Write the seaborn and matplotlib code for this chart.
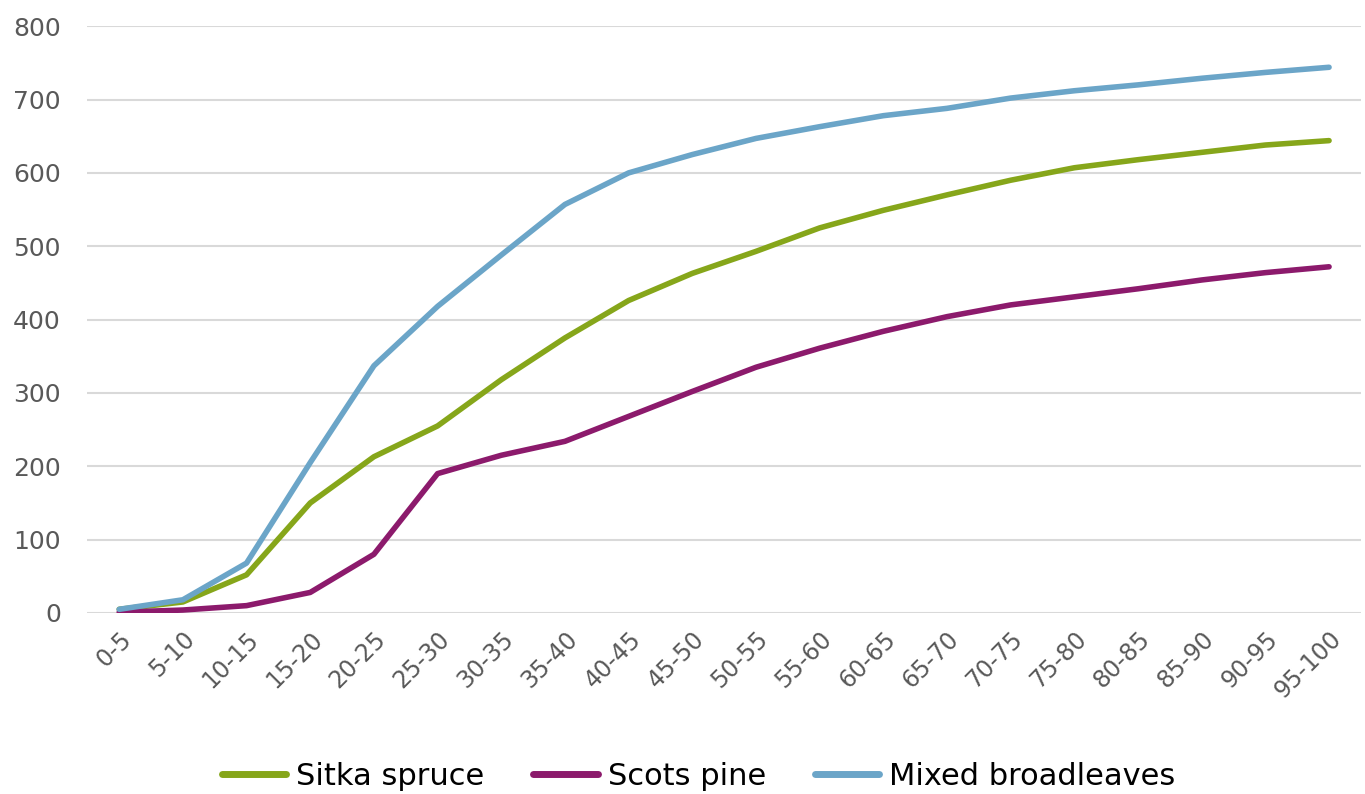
import numpy as np
import pandas as pd
import seaborn as sns
from matplotlib import pyplot as plt

age_classes = ['0-5', '5-10', '10-15', '15-20', '20-25', '25-30', '30-35', '35-40',
               '40-45', '45-50', '50-55', '55-60', '60-65', '65-70', '70-75', '75-80',
               '80-85', '85-90', '90-95', '95-100']
sitka_spruce = [5, 15, 52, 150, 213, 255, 318, 375, 426, 463, 493, 525, 549, 570,
                590, 607, 618, 628, 638, 644]
scots_pine = [1, 4, 10, 28, 80, 190, 215, 234, 268, 302, 335, 361, 384, 404,
              420, 431, 442, 454, 464, 472]
mixed_broadleaves = [5, 18, 68, 205, 337, 418, 488, 557, 600, 625, 647, 663, 678, 688,
                     702, 712, 720, 729, 737, 744]
series_names = ['Sitka spruce', 'Scots pine', 'Mixed broadleaves']
colours = ['#86a61a', '#8c1a6c', '#6ba5c8']


def main():
    rows = []
    for name, vals in zip(series_names, [sitka_spruce, scots_pine, mixed_broadleaves]):
        for i, v in enumerate(vals):
            rows.append({'age': age_classes[i], 'pos': i, 'value': v, 'species': name})
    df = pd.DataFrame(rows)

    sns.set_style('white')
    plt.rcParams['font.family'] = ['DejaVu Sans']

    fig = plt.figure(figsize=(13.65, 7.94), dpi=100)
    ax = fig.add_axes([0.064, 0.228, 0.933, 0.739])
    sns.lineplot(data=df, x='pos', y='value', hue='species', hue_order=series_names,
                 palette=colours, linewidth=4.0, ax=ax, legend=True,
                 solid_capstyle='round')

    ax.set_xlim(-0.5, len(age_classes) - 0.5)
    ax.set_ylim(0, 800)
    ax.set_yticks(np.arange(0, 801, 100))
    ax.set_xticks(range(len(age_classes)))
    ax.set_xticklabels(age_classes, rotation=45, ha='right', rotation_mode='anchor')
    ax.tick_params(axis='both', length=0, labelcolor='#595959')
    ax.tick_params(axis='x', pad=10, labelsize=17)
    ax.tick_params(axis='y', pad=19, labelsize=18)
    ax.grid(axis='y', color='#d9d9d9', linewidth=1.5)
    ax.set_axisbelow(True)
    for s in ax.spines.values():
        s.set_visible(False)
    ax.set_xlabel('')
    ax.set_ylabel('')

    handles, labels = ax.get_legend_handles_labels()
    ax.legend(handles, labels, loc='lower center', bbox_to_anchor=(0.48, -0.35),
              ncol=3, frameon=False, fontsize=22, handlelength=2.1,
              columnspacing=1.6, handletextpad=0.33, labelcolor='#000000')
    for line in ax.get_legend().get_lines():
        line.set_linewidth(5)
        line.set_solid_capstyle('round')

    plt.savefig('out.png', dpi=100)


if __name__ == '__main__':
    main()
